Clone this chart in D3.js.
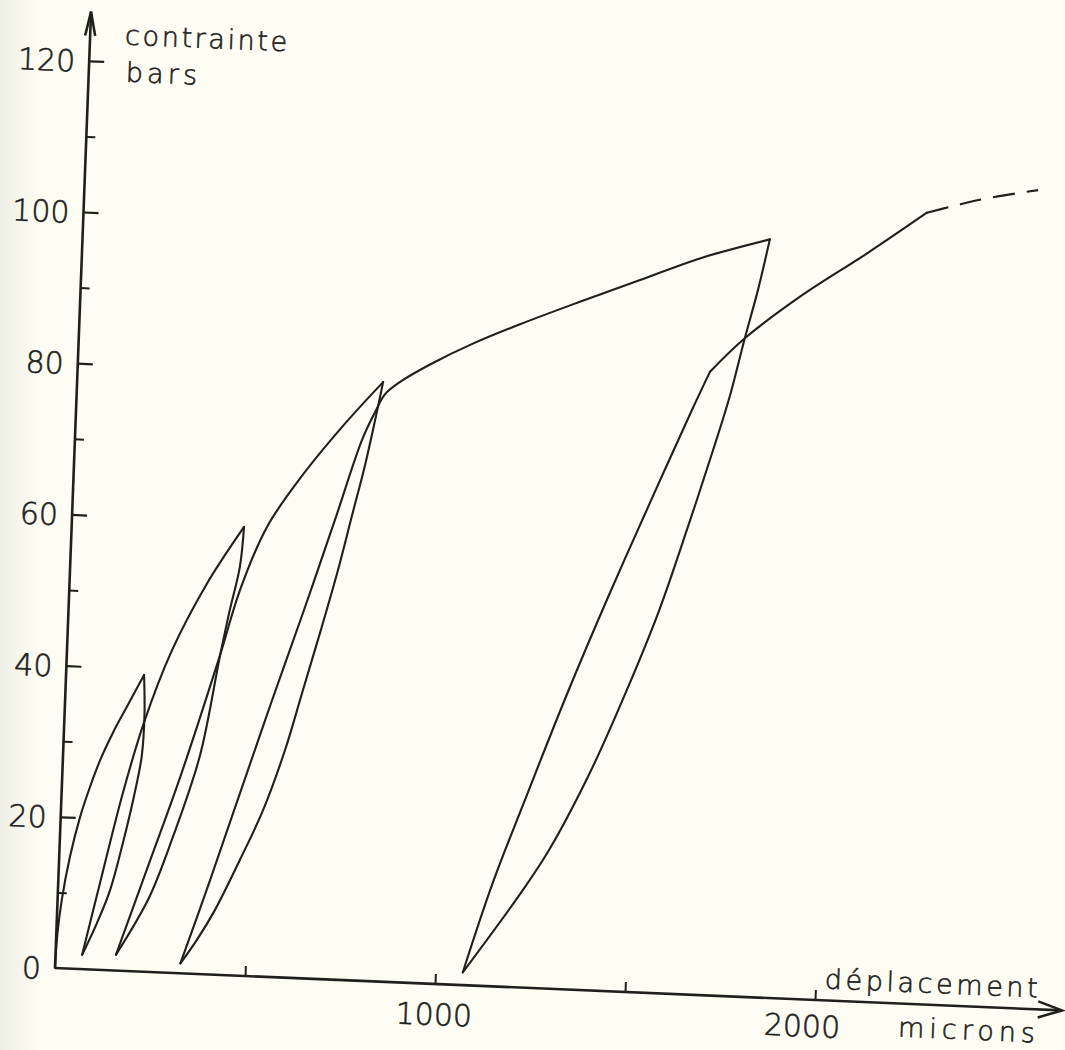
<!DOCTYPE html>
<html>
<head>
<meta charset="utf-8">
<script src="https://cdn.jsdelivr.net/npm/d3@7/dist/d3.min.js"></script>
<style>
  html, body { margin: 0; padding: 0; background: #fdfdf4; }
  svg { display: block; }
</style>
</head>
<body>
<svg id="chart" width="1065" height="1050"></svg>
<script>
// ---- axis ticks ----
const yMajorTicks = [0, 20, 40, 60, 80, 100, 120];
const yMinorTicks = [10, 30, 50, 70, 90, 110];
const xTicks = [500, 1000, 1500, 2000];
const xTickLabels = [1000, 2000];

// ---- cyclic loading branches: [déplacement (microns), contrainte (bars)] ----
const loading1 = [[0,0],[3,4.6],[11,9],[28,14.7],[51,20.1],[74,24.1],[98,27.7],[129,31.4],[163,34.9],[205,39.2]];
const unload1  = [[205,39.2],[210,34],[207,28.5],[190,23],[166,16.9],[137,10.6],[106,6.2],[70,1.9]];
const reload1  = [[70,1.9],[110,11.5],[161,23.5],[210,33],[275,42.5],[360,51.5],[453,59.3]];
const unload2  = [[453,59.3],[446,54],[424,48.3],[403,42.3],[360,28.9],[297,18],[240,9.8],[159,2.1]];
const reload2  = [[159,2.1],[234,13.9],[310,25.9],[403,42.3],[449,51],[513,59.4],[595,66],[703,73.2],[804,79.2]];
const unload3  = [[804,79.2],[787,74.2],[765,68.2],[736,61.5],[704,54.1],[665,46.1],[624,38.1],[583,30.1],[531,22],[475,15.3],[415,8.6],[370,4.5],[329,1.3]];
const reload3  = [[329,1.3],[399,12.5],[471,24.5],[544,36.6],[619,48.7],[691,60.7],[754,71.4],[786,75.2],[810,77.6],[848,79.3],[933,82],[1029,84.6],[1158,87.6],[1313,90.9],[1469,94.1],[1624,97.3],[1806,100.2]];
const unload4  = [[1806,100.2],[1780,93.5],[1750,87],[1717,79.4],[1678,72.1],[1617,61.4],[1552,50.6],[1475,39.9],[1389,29.1],[1286,18.3],[1210,12],[1072,1.7]];
const reload4a = [[1072,1.7],[1140,13.4],[1225,25.8],[1318,39],[1416,52],[1520,65.1],[1618,77.2],[1662,82.4]];
const reload4b = [[1662,82.4],[1750,87],[1891,92.8],[2063,98.9],[2216,104.6]];
const extrapolated = [[2216,104.6],[2290,105.7],[2370,106.8],[2506,108.2]];

const solidBranches = [loading1, unload1, reload1, unload2, reload2, unload3, reload3, unload4, reload4a, reload4b];

const ink = "#1f1f1c";
const svg = d3.select("#chart");

// paper tone with a faint shadow on the left edge
const defs = svg.append("defs");
const grad = defs.append("linearGradient").attr("id", "edge").attr("x1", 0).attr("x2", 1);
grad.append("stop").attr("offset", 0).attr("stop-color", "#a3a894").attr("stop-opacity", 0.16);
grad.append("stop").attr("offset", 0.04).attr("stop-color", "#a3a894").attr("stop-opacity", 0.0);
svg.append("rect").attr("width", 1065).attr("height", 1050).attr("fill", "#fdfdf4");
svg.append("rect").attr("width", 1065).attr("height", 1050).attr("fill", "url(#edge)");

// scales (local frame; the sheet itself is slightly tilted)
const x = d3.scaleLinear().domain([0, 1000]).range([0, 380]);
const y = d3.scaleLinear().domain([0, 120]).range([0, -907.2]);

const plot = svg.append("g").attr("transform", "matrix(1,0.0421,-0.0377,1,55,968)");

// axis lines with arrows
const yTop = 126.5, xEnd = 2650;
plot.append("line").attr("x1", 0).attr("y1", 0).attr("x2", 0).attr("y2", y(yTop))
  .attr("stroke", ink).attr("stroke-width", 2.6);
plot.append("line").attr("x1", 0).attr("y1", 0).attr("x2", x(xEnd)).attr("y2", 0)
  .attr("stroke", ink).attr("stroke-width", 2.6);
plot.append("path")
  .attr("d", `M${-5},${y(yTop) + 24} L0,${y(yTop)} L${5},${y(yTop) + 24}`)
  .attr("fill", "none").attr("stroke", ink).attr("stroke-width", 2.6);
plot.append("path")
  .attr("d", `M${x(xEnd) - 24},${-8} L${x(xEnd)},0 L${x(xEnd) - 24},${8}`)
  .attr("fill", "none").attr("stroke", ink).attr("stroke-width", 2.6);

const labelFont = "'DejaVu Sans', sans-serif";
function letter(sel, size, spacing) {
  return sel.attr("font-size", size).attr("letter-spacing", spacing)
    .attr("font-family", labelFont).attr("font-weight", 200)
    .attr("fill", ink).attr("stroke", ink).attr("stroke-width", 0.6);
}

// y axis: major ticks with labels, minor ticks
const yAxis = plot.append("g").call(
  d3.axisLeft(y).tickValues(yMajorTicks).tickSizeInner(-15).tickSizeOuter(0).tickPadding(14)
);
yAxis.select(".domain").remove();
yAxis.selectAll(".tick line").attr("stroke", ink).attr("stroke-width", 2.2)
  .filter(d => d === 0).remove();
letter(yAxis.selectAll(".tick text"), 30, 0).attr("dy", "0.36em");

const yMinor = plot.append("g").call(
  d3.axisLeft(y).tickValues(yMinorTicks).tickSizeInner(-9).tickSizeOuter(0).tickFormat("")
);
yMinor.select(".domain").remove();
yMinor.selectAll(".tick line").attr("stroke", ink).attr("stroke-width", 2);

// x axis ticks pointing up
const xAxis = plot.append("g").call(
  d3.axisBottom(x).tickValues(xTicks).tickSizeInner(-10).tickSizeOuter(0).tickFormat("")
);
xAxis.select(".domain").remove();
xAxis.selectAll(".tick line").attr("stroke", ink).attr("stroke-width", 2);

// x labels
letter(plot.selectAll("text.xlab").data(xTickLabels).enter().append("text")
  .attr("class", "xlab")
  .attr("x", d => x(d) - (d === 2000 ? 12 : 0))
  .attr("y", d => d === 2000 ? 37 : 41)
  .attr("text-anchor", "middle")
  .text(d => d), 30, 0);

letter(plot.append("text").attr("x", 844).attr("y", 33).text("microns"), 27, 5);
letter(plot.append("text").attr("x", 769).attr("y", -12).text("déplacement"), 27, 3.6);
letter(plot.append("text").attr("x", 35).attr("y", -925).text("contrainte"), 27, 2.6);
letter(plot.append("text").attr("x", 37).attr("y", -888).text("bars"), 27, 4.2);

// stress–displacement branches
const line = d3.line()
  .x(d => x(d[0]))
  .y(d => y(d[1]))
  .curve(d3.curveCatmullRom.alpha(0.5));

plot.selectAll("path.branch").data(solidBranches).enter().append("path")
  .attr("class", "branch")
  .attr("d", line)
  .attr("fill", "none").attr("stroke", ink).attr("stroke-width", 2.1)
  .attr("stroke-linejoin", "round").attr("stroke-linecap", "round");

plot.append("path")
  .datum(extrapolated)
  .attr("d", line)
  .attr("fill", "none").attr("stroke", ink).attr("stroke-width", 2.1)
  .attr("stroke-dasharray", "22,12");
</script>
</body>
</html>
